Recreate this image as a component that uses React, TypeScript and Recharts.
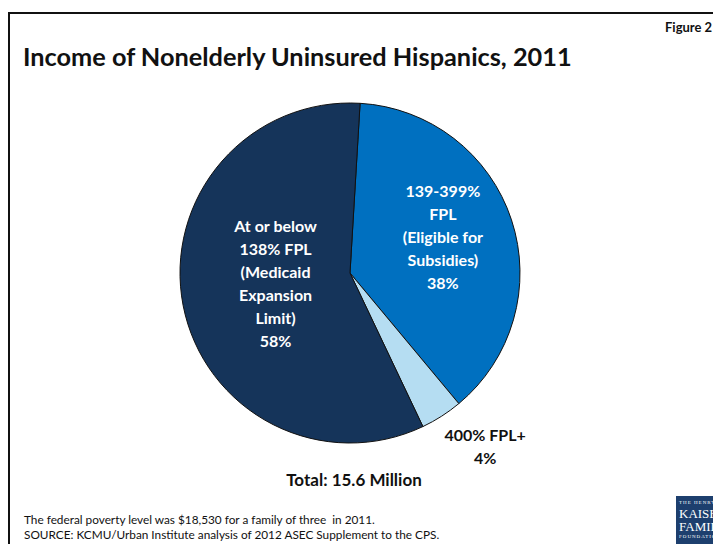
import { PieChart, Pie, Cell } from "recharts";

const categories = ["139-399% FPL", "400% FPL+", "At or below 138% FPL"];
const shares = [38, 4, 58];
const labelLines = [
  ["139-399%", "FPL", "(Eligible for", "Subsidies)", "38%"],
  ["400% FPL+", "4%"],
  ["At or below", "138% FPL", "(Medicaid", "Expansion", "Limit)", "58%"],
];
const colors = ["#0070c0", "#b5ddf2", "#15345a"];

const data = categories.map((name, i) => ({ name, value: shares[i] }));

const FONT = "Lato, 'Open Sans', sans-serif";
const RAD = Math.PI / 180;

// label radius + small angle nudge per slice (outside label for the thin one)
const labelPlace = [
  { r: 100, da: 3.5, fill: "#fff" },
  { r: 219, da: 5.5, fill: "#111" },
  { r: 75, da: -4, fill: "#fff" },
];

function renderLabel(props: any) {
  const { cx, cy, midAngle, index } = props;
  const p = labelPlace[index];
  const a = (midAngle + p.da) * RAD;
  const x = cx + p.r * Math.cos(a);
  const y = cy - p.r * Math.sin(a);
  const lines = labelLines[index];
  const lh = 23;
  const y0 = y - ((lines.length - 1) * lh) / 2;
  return (
    <text
      x={x}
      y={y0}
      textAnchor="middle"
      dominantBaseline="central"
      fill={p.fill}
      fontFamily={FONT}
      fontWeight={700}
      fontSize={16}
    >
      {lines.map((t, k) => (
        <tspan key={k} x={x} y={y0 + k * lh} dominantBaseline="central">
          {t}
        </tspan>
      ))}
    </text>
  );
}

export default function App() {
  return (
    <div
      style={{
        position: "absolute",
        left: 0,
        top: 0,
        width: 713,
        height: 544,
        background: "#fff",
        overflow: "hidden",
        fontFamily: FONT,
      }}
    >
      {/* frame */}
      <div style={{ position: "absolute", left: 8, top: 12, width: 705, height: 2, background: "#111" }} />
      <div style={{ position: "absolute", left: 8, top: 12, width: 2, height: 532, background: "#111" }} />

      <div style={{ position: "absolute", left: 665, top: 19, fontSize: 13, fontWeight: 700, whiteSpace: "nowrap", color: "#111" }}>
        Figure 2
      </div>
      <div style={{ position: "absolute", left: 23, top: 41, fontSize: 25.3, fontWeight: 700, whiteSpace: "nowrap", color: "#111" }}>
        Income of Nonelderly Uninsured Hispanics, 2011
      </div>

      <div style={{ position: "absolute", left: 0, top: 0 }}>
        <PieChart width={713} height={544} margin={{ top: 0, right: 0, bottom: 0, left: 0 }}>
          <Pie
            data={data}
            dataKey="value"
            nameKey="name"
            cx={350}
            cy={273}
            outerRadius={170}
            startAngle={86.6}
            endAngle={-273.4}
            stroke="#111"
            strokeWidth={1}
            label={renderLabel}
            labelLine={false}
            isAnimationActive={false}
          >
            {data.map((d, i) => (
              <Cell key={d.name} fill={colors[i]} />
            ))}
          </Pie>
        </PieChart>
      </div>

      <div style={{ position: "absolute", left: 0, width: 708, top: 469, textAlign: "center", fontSize: 17, fontWeight: 700, color: "#111" }}>
        Total: 15.6 Million
      </div>

      <div style={{ position: "absolute", left: 24, top: 512, fontSize: 11.8, lineHeight: "15px", color: "#111", whiteSpace: "nowrap" }}>
        The federal poverty level was $18,530 for a family of three&nbsp; in 2011.
        <br />
        SOURCE: KCMU/Urban Institute analysis of 2012 ASEC Supplement to the CPS.
      </div>

      {/* logo */}
      <div
        style={{
          position: "absolute",
          left: 676,
          top: 496,
          width: 60,
          height: 48,
          background: "#1d3f6e",
          color: "#fff",
          fontFamily: "'Liberation Serif', serif",
          lineHeight: 1,
          paddingLeft: 3,
          paddingTop: 4,
          boxSizing: "border-box",
          whiteSpace: "nowrap",
        }}
      >
        <div style={{ fontSize: 5, letterSpacing: 1 }}>THE HENRY J.</div>
        <div style={{ fontSize: 13, marginTop: 2 }}>KAISER</div>
        <div style={{ fontSize: 13 }}>FAMILY</div>
        <div style={{ fontSize: 5, letterSpacing: 1, marginTop: 1 }}>FOUNDATION</div>
      </div>
    </div>
  );
}
